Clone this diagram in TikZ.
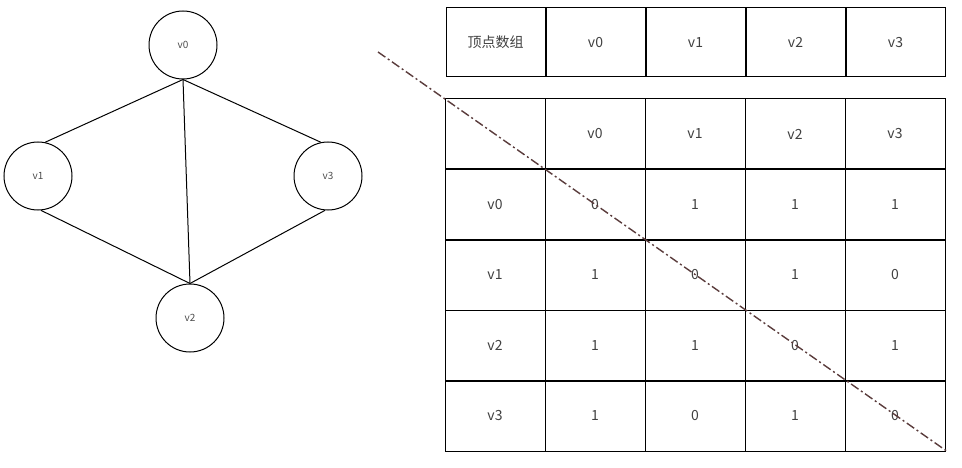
\documentclass[tikz,border=0pt]{standalone}
\usepackage{fontspec}
\setmainfont{Noto Sans CJK SC}
\begin{document}
\begin{tikzpicture}[x=1pt,y=-1pt,
  vert/.style={circle,draw,line width=1pt,minimum size=68pt,inner sep=0pt,font=\fontsize{10}{11}\selectfont,text=black!70},
  cell/.style={draw,line width=1pt,minimum width=100pt,minimum height=70pt,inner sep=0pt,font=\fontsize{14}{15}\selectfont,text=black!75},
  edge/.style={line width=1pt}]
\useasboundingbox (0,0) rectangle (962,468);
\node[vert] (v0) at (183,45) {v0};
\node[vert] (v1) at (38,176) {v1};
\node[vert] (v3) at (328,176) {v3};
\node[vert] (v2) at (190,318) {v2};
\draw[edge] (v0.south) -- (v1.78);
\draw[edge] (v0.south) -- (v3.102);
\draw[edge] (v0.south) -- (v2.north);
\draw[edge] (v1.-85) -- (v2.north);
\draw[edge] (v3.-95) -- (v2.north);
% top table
\foreach \t [count=\i from 0] in {顶点数组,v0,v1,v2,v3}{
  \node[cell,minimum width=99pt,minimum height=69pt] (h\i) at ({495.5+\i*100},42.5) {\t};
}
% matrix
\foreach \r/\a/\b/\c/\d/\e in {0//v0/v1/v2/v3, 1/v0/0/1/1/1, 2/v1/1/0/1/0, 3/v2/1/1/0/1, 4/v3/1/0/1/0}{
  \foreach \t [count=\i from 0] in {\a,\b,\c,\d,\e}{
    \node[cell] (m\r\i) at ({495+\i*100},{134+\r*70.5}) {\t};
  }
}
\coordinate (ds) at (378,52);
\coordinate (de) at (948,452);
\draw[line width=1.4pt,color={rgb,255:red,90;green,60;blue,60},dash pattern=on 9pt off 3pt on 2pt off 3pt] (ds) -- (de);
\end{tikzpicture}
\end{document}
